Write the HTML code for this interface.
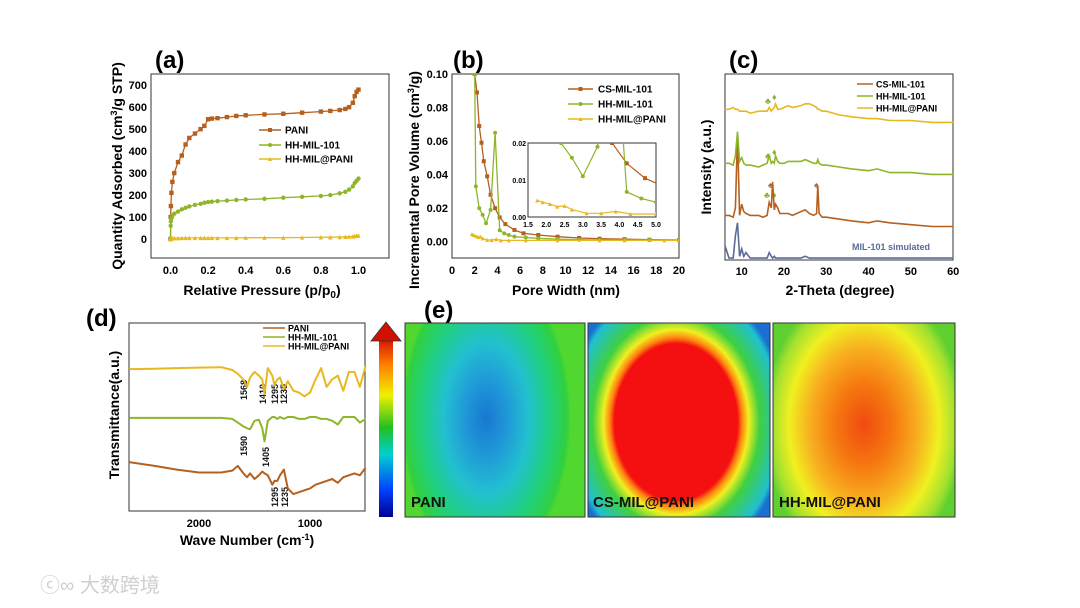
<!DOCTYPE html>
<html><head><meta charset="utf-8"><style>
html,body{margin:0;padding:0;background:#fff;}
svg{display:block;font-family:"Liberation Sans",Arial,sans-serif;font-weight:bold;}
</style></head><body>
<svg id="fig" width="1080" height="608" viewBox="0 0 1080 608" xmlns="http://www.w3.org/2000/svg">
<defs>
<linearGradient id="cbar" x1="0" y1="1" x2="0" y2="0">
<stop offset="0" stop-color="#00008f"/><stop offset="0.15" stop-color="#0040ff"/><stop offset="0.35" stop-color="#00d0d0"/><stop offset="0.5" stop-color="#20c020"/><stop offset="0.68" stop-color="#f0f000"/><stop offset="0.85" stop-color="#ff8000"/><stop offset="1" stop-color="#d01000"/>
</linearGradient>
<radialGradient id="hm1" gradientUnits="userSpaceOnUse" cx="0" cy="0" r="1" gradientTransform="translate(486 418) scale(85 150)">
<stop offset="0" stop-color="#1878d0"/><stop offset="0.25" stop-color="#2098d8"/><stop offset="0.5" stop-color="#22c0d0"/><stop offset="0.75" stop-color="#20d080"/><stop offset="0.95" stop-color="#30d040"/><stop offset="1" stop-color="#50d830"/>
</radialGradient>
<radialGradient id="hm2" gradientUnits="userSpaceOnUse" cx="0" cy="0" r="1" gradientTransform="translate(676 422) scale(110 140)">
<stop offset="0" stop-color="#f41010"/><stop offset="0.56" stop-color="#f41010"/><stop offset="0.6" stop-color="#ff8010"/><stop offset="0.66" stop-color="#f0f020"/><stop offset="0.76" stop-color="#40d040"/><stop offset="0.95" stop-color="#20c0d0"/><stop offset="1" stop-color="#1a70d0"/>
</radialGradient>
<radialGradient id="hm3" gradientUnits="userSpaceOnUse" cx="0" cy="0" r="1" gradientTransform="translate(864 425) scale(100 140)">
<stop offset="0" stop-color="#f04a10"/><stop offset="0.3" stop-color="#f57a10"/><stop offset="0.55" stop-color="#f8b020"/><stop offset="0.75" stop-color="#f0f020"/><stop offset="0.92" stop-color="#a0e030"/><stop offset="1" stop-color="#60d030"/>
</radialGradient>
</defs>

<!-- panel letters -->
<text x="155" y="68" font-size="24">(a)</text>
<text x="453" y="68" font-size="24">(b)</text>
<text x="729" y="68" font-size="24">(c)</text>
<text x="86" y="326" font-size="24">(d)</text>
<text x="424" y="318" font-size="24">(e)</text>

<!-- axis boxes -->
<rect x="151" y="74" width="238" height="184" fill="none" stroke="#333" stroke-width="1"/>
<rect x="452" y="74" width="227" height="184" fill="none" stroke="#333" stroke-width="1"/>
<rect x="725" y="74" width="228" height="186" fill="none" stroke="#333" stroke-width="1"/>
<rect x="129" y="323" width="236" height="188" fill="none" stroke="#333" stroke-width="1"/>
<rect x="528" y="143" width="128" height="74" fill="#fff" stroke="#333" stroke-width="1"/>

<!-- axis titles -->
<text x="262" y="295" font-size="14" text-anchor="middle">Relative Pressure (p/p<tspan font-size="10" dy="3">0</tspan><tspan dy="-3">)</tspan></text>
<text transform="translate(122,166) rotate(-90)" font-size="14" text-anchor="middle">Quantity Adsorbed (cm<tspan font-size="9" dy="-5">3</tspan><tspan dy="5">/g STP)</tspan></text>
<text x="566" y="295" font-size="14" text-anchor="middle">Pore Width (nm)</text>
<text transform="translate(419,180) rotate(-90)" font-size="14" text-anchor="middle">Incremental Pore Volume (cm<tspan font-size="9" dy="-5">3</tspan><tspan dy="5">/g)</tspan></text>
<text x="840" y="295" font-size="14" text-anchor="middle">2-Theta (degree)</text>
<text transform="translate(711,167) rotate(-90)" font-size="14" text-anchor="middle">Intensity (a.u.)</text>
<text x="247" y="545" font-size="14" text-anchor="middle">Wave Number (cm<tspan font-size="9" dy="-5">-1</tspan><tspan dy="5">)</tspan></text>
<text transform="translate(119,415) rotate(-90)" font-size="14" text-anchor="middle">Transmittance(a.u.)</text>

<!-- color bar -->
<rect x="379" y="338" width="14" height="179" fill="url(#cbar)"/>
<polygon points="371,341 386,322 401,341" fill="#d01000" stroke="#333" stroke-width="0.8"/>

<!-- heatmaps -->
<rect x="405" y="323" width="180" height="194" fill="url(#hm1)" stroke="#333"/>
<rect x="588" y="323" width="182" height="194" fill="url(#hm2)" stroke="#333"/>
<rect x="773" y="323" width="182" height="194" fill="url(#hm3)" stroke="#333"/>
<text x="411" y="507" font-size="15" fill="#111">PANI</text>
<text x="593" y="507" font-size="15" fill="#111">CS-MIL@PANI</text>
<text x="779" y="507" font-size="15" fill="#111">HH-MIL@PANI</text>

<text x="852" y="250" font-size="9" fill="#5a6a9a">MIL-101 simulated</text>

<!-- FTIR annotations -->
<g font-size="9" fill="#111">
<text transform="translate(247,380) rotate(-90)" text-anchor="end">1568</text>
<text transform="translate(266,384) rotate(-90)" text-anchor="end">1410</text>
<text transform="translate(278,384) rotate(-90)" text-anchor="end">1295</text>
<text transform="translate(287,384) rotate(-90)" text-anchor="end">1235</text>
<text transform="translate(247,436) rotate(-90)" text-anchor="end">1590</text>
<text transform="translate(269,447) rotate(-90)" text-anchor="end">1405</text>
<text transform="translate(278,487) rotate(-90)" text-anchor="end">1295</text>
<text transform="translate(288,487) rotate(-90)" text-anchor="end">1235</text>
</g>

<!-- XRD symbols -->
<g font-size="9">
<text x="765" y="104" fill="#8bb02a">♣</text><text x="772" y="100" fill="#8bb02a">♦</text>
<text x="765" y="159" fill="#8bb02a">♣</text><text x="772" y="155" fill="#8bb02a">♦</text>
<text x="764" y="198" fill="#8bb02a">♣</text><text x="772" y="198" fill="#8bb02a">♦</text>
<text x="768" y="188" fill="#b0602a">♠</text><text x="814" y="188" fill="#b0602a">♠</text>
</g>

<!-- watermark -->
<text x="40" y="592" font-size="20" fill="#cfcfcf" font-weight="normal" font-family="'Liberation Sans','Noto Sans CJK SC',sans-serif">ⓒ∞ 大数跨境</text>

<g id="dyn"></g>
</svg>
<script>
// ---- Panel (a) data ----
const aP = [0,0.001,0.002,0.005,0.01,0.02,0.04,0.06,0.08,0.1,0.13,0.16,0.18,0.2,0.22,0.25,0.3,0.35,0.4,0.5,0.6,0.7,0.8,0.85,0.9,0.93,0.95,0.97,0.98,0.99,1.0];
const aPANI = [0,100,150,210,260,300,350,380,430,460,480,500,515,545,548,550,555,560,563,567,570,575,580,583,587,592,600,620,650,670,680];
const aHH = [0,60,80,95,105,115,125,135,142,148,155,160,165,168,170,172,175,178,180,183,188,192,196,200,208,215,225,240,255,265,275];
const aHHP = [0,2,3,3,4,4,4,5,5,5,5,5,5,5,5,5,5,5,6,6,6,7,8,8,9,10,11,12,14,15,16];
const aYTicks = [0,100,200,300,400,500,600,700];
const aXTicks = [0,0.2,0.4,0.6,0.8,1.0];
// ---- Panel (b) data ----
const bCSx = [2.0,2.2,2.4,2.6,2.8,3.1,3.4,3.8,4.2,4.7,5.5,6.3,7.6,9.3,11.2,13,15.2,17.4,20];
const bCSy = [0.1,0.089,0.069,0.059,0.048,0.039,0.028,0.02,0.0145,0.0105,0.007,0.005,0.004,0.003,0.0022,0.0018,0.0015,0.0012,0.001];
const bHHx = [2.0,2.1,2.4,2.7,3.0,3.4,3.8,4.2,4.6,5.0,5.5,6.5,7.6,9.3,11.2,13,15.2,17.4,20];
const bHHy = [0.1,0.033,0.02,0.016,0.011,0.019,0.065,0.0068,0.005,0.004,0.003,0.0025,0.002,0.0015,0.0012,0.001,0.001,0.001,0.001];
const bHPx = [1.75,1.9,2.1,2.3,2.5,2.7,3.1,3.5,3.9,4.3,5.0,6.5,9.3,13,15.2,18.7,20];
const bHPy = [0.0045,0.004,0.0035,0.0028,0.003,0.002,0.001,0.001,0.0015,0.0008,0.0008,0.0008,0.0008,0.0008,0.0008,0.0008,0.0008];
const bYTicks = [0,0.02,0.04,0.06,0.08,0.1];
const bXTicks = [0,2,4,6,8,10,12,14,16,18,20];
const bInsetX = [1.5,2.0,2.5,3.0,3.5,4.0,4.5,5.0];
const bInsetY = [0,0.01,0.02];
// ---- Panel (c) data ----
const cX = [6,7,8,8.5,9,9.5,10,10.5,11,12,14,15,16,16.5,17,17.3,17.7,18,18.5,19,20,21,22,24,25,26,27,27.7,28,28.3,29,30,33,36,40,42,45,50,55,60];
const cCS = [24,24,23,28,67,24,30,26,25,24,24,23,24,31,28,42,27,30,28,25,25,25,24,26,27,25,24,25,40,25,23,23,22,21,20,21,20,19,18,18];
const cHH = [52,52,51,56,69,53,55,52,51,51,50,51,52,56,52,53,52,56,53,52,52,53,53,53,54,53,52,52,54,52,51,51,50,49,48,49,47,47,46,46];
const cHP = [81,81,82,81,81,80,80,80,80,79,80,80,80,82,80,81,82,84,81,81,82,83,82,83,84,84,83,82,81,81,80,80,78,77,76,76,75,75,74,74];
const cSIM = [8,1,1,13,20,2,6,2,4,1,1,1,1,4,2,1,2,1,1,1,1,1,1,1,2,1,1,1,1,1,1,1,1,1,1,1,1,1,1,1];
const cXTicks = [10,20,30,40,50,60];
// ---- Panel (d) data ----
const dX = [2630,2400,2200,2000,1800,1700,1650,1600,1568,1540,1500,1460,1430,1410,1380,1340,1320,1295,1270,1235,1200,1150,1100,1050,1000,950,900,850,800,750,700,650,600,550,500];
const dHP = [75.5,75.7,76,76.3,76.5,75,73,70,66,71,74,72,70,62,76,72,67,70,71,65,69,64,63,61,63,70,76,66,70,72,64,74,74,66,77];
const dHH = [49.5,49.5,49.5,49.5,49.5,49,47,45,44,43.5,48,48.5,44,37,48,50,50,49,50,49,50,50,49,49,50,50,49,49,48,46,50,50,50,47,49];
const dPANI = [26,24,22,20.5,20.5,21.5,24,20,18,20,17,19,21,20,19,14,16,16,19,22,12,9,10,11,12,14,15,16,17,15,18,19,20,19,23];
const dXTicks = [2000,1000];

const NS = 'http://www.w3.org/2000/svg';
const root = document.getElementById('dyn');
function mk(tag, attrs, parent){ const e=document.createElementNS(NS,tag); for(const k in attrs) e.setAttribute(k,attrs[k]); (parent||root).appendChild(e); return e; }

// scales
const xa = v => 170.5 + v*188;
const ya = v => 239 - v*0.2197;
const xb = v => 452 + v*11.35;
const yb = v => 241.7 - v*1677;
const xi = v => 528 + (v-1.5)/3.5*128;
const yi = v => 217 - v/0.02*74;
const xc = v => 741.7 + (v-10)*4.23;
const yc = v => 260 - v*1.86;
const xd = v => 199 + (2000-v)*0.111;
const yd = v => 511 - v*1.88;

function pathD(xs, ys, fx, fy){ return xs.map((x,i)=>(i?'L':'M')+fx(x).toFixed(1)+','+fy(ys[i]).toFixed(1)).join(''); }

// ticks
aYTicks.forEach(t=>{ const e=mk('text',{x:147,y:ya(t)+4,'font-size':11,'text-anchor':'end'}); e.textContent=t;

 });
aXTicks.forEach(t=>{ const e=mk('text',{x:xa(t),y:274,'font-size':11,'text-anchor':'middle'}); e.textContent=t.toFixed(1);

 });
bYTicks.forEach(t=>{ const e=mk('text',{x:448,y:yb(t)+4,'font-size':11,'text-anchor':'end'}); e.textContent=t.toFixed(2);

 });
bXTicks.forEach(t=>{ const e=mk('text',{x:xb(t),y:274,'font-size':11,'text-anchor':'middle'}); e.textContent=t;

 });
bInsetX.forEach(t=>{ const e=mk('text',{x:xi(t),y:227,'font-size':7,'text-anchor':'middle'}); e.textContent=t.toFixed(1);

 });
bInsetY.forEach(t=>{ const e=mk('text',{x:526,y:yi(t)+3,'font-size':7,'text-anchor':'end'}); e.textContent=t===0?'0.00':String(t);

 });
cXTicks.forEach(t=>{ const e=mk('text',{x:xc(t),y:275,'font-size':11,'text-anchor':'middle'}); e.textContent=t;

 });
dXTicks.forEach(t=>{ const e=mk('text',{x:xd(t),y:527,'font-size':11,'text-anchor':'middle'}); e.textContent=t;

 });

// markers
function marker(shape,x,y,col,s){
  if(shape==='sq') return mk('rect',{x:x-s,y:y-s,width:2*s,height:2*s,fill:col});
  if(shape==='ci') return mk('circle',{cx:x,cy:y,r:s,fill:col});
  return mk('polygon',{points:`${x-s},${y+s} ${x},${y-s} ${x+s},${y+s}`,fill:col});
}
const BR='#b5601f', GR='#8fb52a', YE='#e8b820';

// panel a
[[aPANI,BR,'sq','pani'],[aHH,GR,'ci','hh-mil-101'],[aHHP,YE,'tr','hh-mil-pani']].forEach(([ys,c,sh,nm])=>{
  const p=mk('path',{d:pathD(aP,ys,xa,ya),fill:'none',stroke:c,'stroke-width':1.3});
  
  
  aP.forEach((x,i)=>{ const m=marker(sh,xa(x),ya(ys[i]),c,2.2);
    
     });
});
// panel b (main + inset)
const clipI=mk('clipPath',{id:'insetclip'}); mk('rect',{x:528,y:143,width:128,height:74},clipI);
const clipB=mk('clipPath',{id:'bclip'}); mk('rect',{x:452,y:74,width:227,height:184},clipB);
[[bCSx,bCSy,BR,'sq','cs-mil-101'],[bHHx,bHHy,GR,'ci','hh-mil-101'],[bHPx,bHPy,YE,'tr','hh-mil-pani']].forEach(([xs,ys,c,sh,nm])=>{
  const g=mk('g',{'clip-path':'url(#bclip)'});
  
  
  mk('path',{d:pathD(xs,ys,xb,yb),fill:'none',stroke:c,'stroke-width':1.3},g);
  xs.forEach((x,i)=>{ const m=marker(sh,xb(x),yb(ys[i]),c,2); g.appendChild(m);
    
     });
  const gi=mk('g',{'clip-path':'url(#insetclip)'});
  
  
  mk('path',{d:pathD(xs,ys,xi,yi),fill:'none',stroke:c,'stroke-width':1.2},gi);
  xs.forEach((x,i)=>{ const m=marker(sh,xi(x),yi(ys[i]),c,2); gi.appendChild(m);
    
     });
});
// panel c
[[cSIM,'#5a6a9a','simulated'],[cCS,BR,'cs-mil-101'],[cHH,GR,'hh-mil-101'],[cHP,YE,'hh-mil-pani']].forEach(([ys,c,nm])=>{
  const p=mk('path',{d:pathD(cX,ys,xc,yc),fill:'none',stroke:c,'stroke-width':1.6});
  
  
});
// panel d
[[dPANI,BR,'pani'],[dHH,GR,'hh-mil-101'],[dHP,YE,'hh-mil-pani']].forEach(([ys,c,nm])=>{
  const p=mk('path',{d:pathD(dX,ys,xd,yd),fill:'none',stroke:c,'stroke-width':2,'stroke-linejoin':'round'});
  
  
});

// legends
function legend(x1,x2,tx,ys,items,fs,panel,withMarkers){
  items.forEach((it,i)=>{
    const l=mk('line',{x1:x1,x2:x2,y1:ys[i],y2:ys[i],stroke:it[1],'stroke-width':1.5});
    
    
    if(withMarkers){ const m=marker(it[2],(x1+x2)/2,ys[i],it[1],2);
      
       }
    const t=mk('text',{x:tx,y:ys[i]+3.5,'font-size':fs}); t.textContent=it[0];
    
    
  });
}
legend(259,281,285,[130,145,159],[['PANI',BR,'sq'],['HH-MIL-101',GR,'ci'],['HH-MIL@PANI',YE,'tr']],10,'panel-a',true);
legend(568,593,598,[89,104,119],[['CS-MIL-101',BR,'sq'],['HH-MIL-101',GR,'ci'],['HH-MIL@PANI',YE,'tr']],10,'panel-b',true);
legend(857,873,876,[84,96,108],[['CS-MIL-101',BR],['HH-MIL-101',GR],['HH-MIL@PANI',YE]],9,'panel-c',false);
legend(263,285,288,[328,337,346],[['PANI',BR],['HH-MIL-101',GR],['HH-MIL@PANI',YE]],9,'panel-d',false);
</script>
</body></html>
